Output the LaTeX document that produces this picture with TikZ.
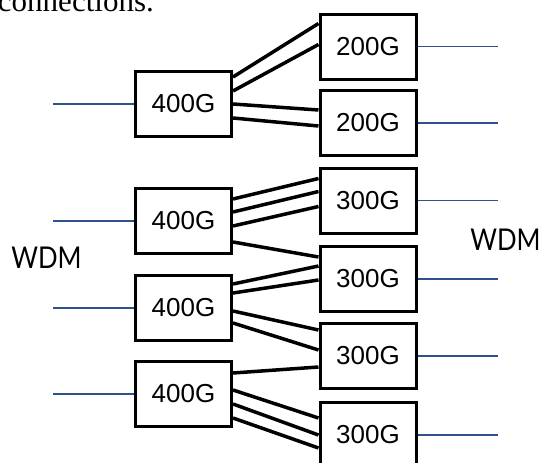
\documentclass[tikz,border=0pt]{standalone}
\usepackage{fontspec}
\setmainfont{Liberation Sans}
\newfontfamily\wdmfont[FakeStretch=0.86]{Lato}
\newfontfamily\prosefont{Liberation Serif}
\usepackage{xcolor}
\usepackage{tikz}
\usetikzlibrary{positioning}
\definecolor{fiberblue}{RGB}{47,82,143}

\begin{document}
\begin{tikzpicture}[x=1pt,y=-1pt,font=\fontsize{26}{30}\selectfont,
 card/.style={draw,line width=3pt,minimum width=96pt,minimum height=65pt,inner sep=0pt},
 lane/.style={line width=3.5pt},
 fiber/.style={draw=fiberblue,line width=1.3pt}]
\useasboundingbox (0,0) rectangle (544,463);
\clip (0,0) rectangle (544,463);
\node[font=\prosefont\fontsize{31}{36}\selectfont,anchor=base east,inner sep=0pt] (intro) at (154,11) {connections.};
\node[card] (l1) at (183.5,104) {400G};
\node[card] (l2) at (183.5,221) {400G};
\node[card] (l3) at (183.5,308) {400G};
\node[card] (l4) at (183.5,394) {400G};
\node[card] (r1) at (368,46.5) {200G};
\node[card] (r2) at (368,123) {200G};
\node[card] (r3) at (368,200.5) {300G};
\node[card] (r4) at (368,279) {300G};
\node[card] (r5) at (368,356) {300G};
\node[card] (r6) at (368,435) {300G};
\node[font=\wdmfont\fontsize{30}{34}\selectfont] (wdmin) at (46.5,258) {WDM};
\node[font=\wdmfont\fontsize{30}{34}\selectfont] (wdmout) at (505.5,240) {WDM};
% client side fibers
\coordinate[left=81pt of l1.west] (in1);
\coordinate[left=81pt of l2.west] (in2);
\coordinate[left=81pt of l3.west] (in3);
\coordinate[left=81pt of l4.west] (in4);
\coordinate[right=80pt of r1.east] (out1);
\coordinate[right=80pt of r2.east] (out2);
\coordinate[right=80pt of r3.east] (out3);
\coordinate[right=80pt of r4.east] (out4);
\coordinate[right=80pt of r5.east] (out5);
\coordinate[right=80pt of r6.east] (out6);
\draw[fiber] (in1)--(l1.west);
\draw[fiber] (in2)--(l2.west);
\draw[fiber] (in3)--(l3.west);
\draw[fiber] (in4)--(l4.west);
\draw[fiber] (r1.east)--(out1);
\draw[fiber] (r2.east)--(out2);
\draw[fiber] (r3.east)--(out3);
\draw[fiber] (r4.east)--(out4);
\draw[fiber] (r5.east)--(out5);
\draw[fiber] (r6.east)--(out6);
% 100G lanes
\draw[lane] ([yshift=-7pt]l1.north east)--([yshift=-11pt]r1.north west);
\draw[lane] ([yshift=-21pt]l1.north east)--([yshift=-32pt]r1.north west);
\draw[lane] ([yshift=-34pt]l1.north east)--([yshift=-21pt]r2.north west);
\draw[lane] ([yshift=-48pt]l1.north east)--([yshift=-37pt]r2.north west);
\draw[lane] ([yshift=-12pt]l2.north east)--([yshift=-12pt]r3.north west);
\draw[lane] ([yshift=-25pt]l2.north east)--([yshift=-25pt]r3.north west);
\draw[lane] ([yshift=-39pt]l2.north east)--([yshift=-40pt]r3.north west);
\draw[lane] ([yshift=-55pt]l2.north east)--([yshift=-12pt]r4.north west);
\draw[lane] ([yshift=-10pt]l3.north east)--([yshift=-21pt]r4.north west);
\draw[lane] ([yshift=-19pt]l3.north east)--([yshift=-35pt]r4.north west);
\draw[lane] ([yshift=-37pt]l3.north east)--([yshift=-8pt]r5.north west);
\draw[lane] ([yshift=-49pt]l3.north east)--([yshift=-28pt]r5.north west);
\draw[lane] ([yshift=-13pt]l4.north east)--([yshift=-45pt]r5.north west);
\draw[lane] ([yshift=-30pt]l4.north east)--([yshift=-17pt]r6.north west);
\draw[lane] ([yshift=-44pt]l4.north east)--([yshift=-34pt]r6.north west);
\draw[lane] ([yshift=-58pt]l4.north east)--([yshift=-47pt]r6.north west);
\end{tikzpicture}
\end{document}
